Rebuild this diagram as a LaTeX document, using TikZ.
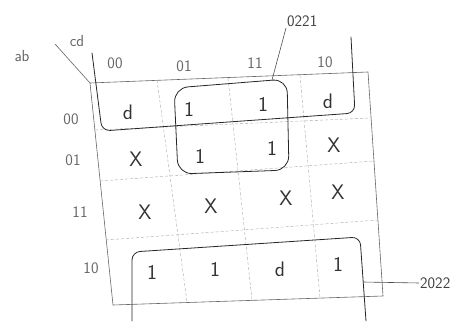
\documentclass[tikz,border=0pt]{standalone}
\usepackage{tikz}
\usetikzlibrary{arrows.meta}
\tikzset{>=Stealth}
\usepackage{xcolor}
\tikzset{
  gridframe/.style={black!60, semithick},
  gridline/.style={black!35, densely dashed},
  grouploop/.style={black!85, thick, line cap=round},
  leader/.style={black!70, semithick},
  entry/.style={inner sep=1pt, text=black!80, font=\sffamily\fontsize{21}{21}\selectfont},
  axislabel/.style={inner sep=1pt, text=black!60, font=\sffamily\fontsize{16}{16}\selectfont},
  tag/.style={inner sep=1pt, text=black!75, font=\sffamily\fontsize{16}{16}\selectfont}
}
\begin{document}
\begin{tikzpicture}[x=1pt, y=-1pt]
                \useasboundingbox (0,0) rectangle (465,326);
                % outer frame of the map (slightly skewed, as sketched)
                \coordinate (tl) at (90,83);
                \coordinate (tr) at (368,72);
                \coordinate (br) at (383,296);
                \coordinate (bl) at (113,305);
                \draw[gridframe] (tl) -- (tr) -- (br) -- (bl) -- cycle;
                % column separators
                \draw[gridline] (157,80) -- (187,302);
                \draw[gridline] (228,78) -- (252,300);
                \draw[gridline] (300,75) -- (320,298);
                % row separators
                \draw[gridline] (95,130) -- (371,118);
                \draw[gridline] (100,181) -- (374,161);
                \draw[gridline] (106,240) -- (378,220);
                % corner labels
                \node[axislabel] (ab) at (22,56) {ab};
                \node[axislabel] (cd) at (77,41) {cd};
                \coordinate (slash) at (55,44);
                \draw[gridframe] (slash) -- (tl);
                % column labels
                \node[axislabel] (c00) at (115,63) {00};
                \node[axislabel] (c01) at (184,66) {01};
                \node[axislabel] (c11) at (255,63) {11};
                \node[axislabel] (c10) at (325,62) {10};
                % row labels
                \node[axislabel] (r00) at (71,119) {00};
                \node[axislabel] (r01) at (73,160) {01};
                \node[axislabel] (r11) at (80,212) {11};
                \node[axislabel] (r10) at (91,268) {10};
                % row 00
                \node[entry] (m0000) at (128,112) {d};
                \node[entry] (m0001) at (189,109) {1};
                \node[entry] (m0011) at (263,104) {1};
                \node[entry] (m0010) at (328,101) {d};
                % row 01
                \node[entry] (m0100) at (136,159) {X};
                \node[entry] (m0101) at (200,156) {1};
                \node[entry] (m0111) at (272,148) {1};
                \node[entry] (m0110) at (334,145) {X};
                % row 11
                \node[entry] (m1100) at (145,212) {X};
                \node[entry] (m1101) at (211,206) {X};
                \node[entry] (m1111) at (286,198) {X};
                \node[entry] (m1110) at (338,192) {X};
                % row 10
                \node[entry] (m1000) at (152,272) {1};
                \node[entry] (m1001) at (215,269) {1};
                \node[entry] (m1011) at (280,269) {d};
                \node[entry] (m1010) at (338,264) {1};
                % wrap-around group: top row (open at the top)
                \draw[grouploop, rounded corners=8pt] (92,53) -- (102,131) -- (355,113) -- (351,37);
                % square group of 1s
                \draw[grouploop, rounded corners=14pt] (174,88) -- (287,79) -- (289,170) -- (178,174) -- cycle;
                % wrap-around group: bottom row (open at the bottom)
                \draw[grouploop, rounded corners=8pt] (132,321) -- (132,252) -- (360,237) -- (366,321);
                % group tags
                \node[tag, anchor=south west] (t0221) at (286,28) {0221};
                \coordinate (g1) at (272,80);
                \draw[leader] (g1) -- (t0221.south west);
                \node[tag, anchor=west] (t2022) at (419,283) {2022};
                \coordinate (g2) at (363,282);
                \draw[leader] (g2) -- (t2022.west);
            \end{tikzpicture}
\end{document}
